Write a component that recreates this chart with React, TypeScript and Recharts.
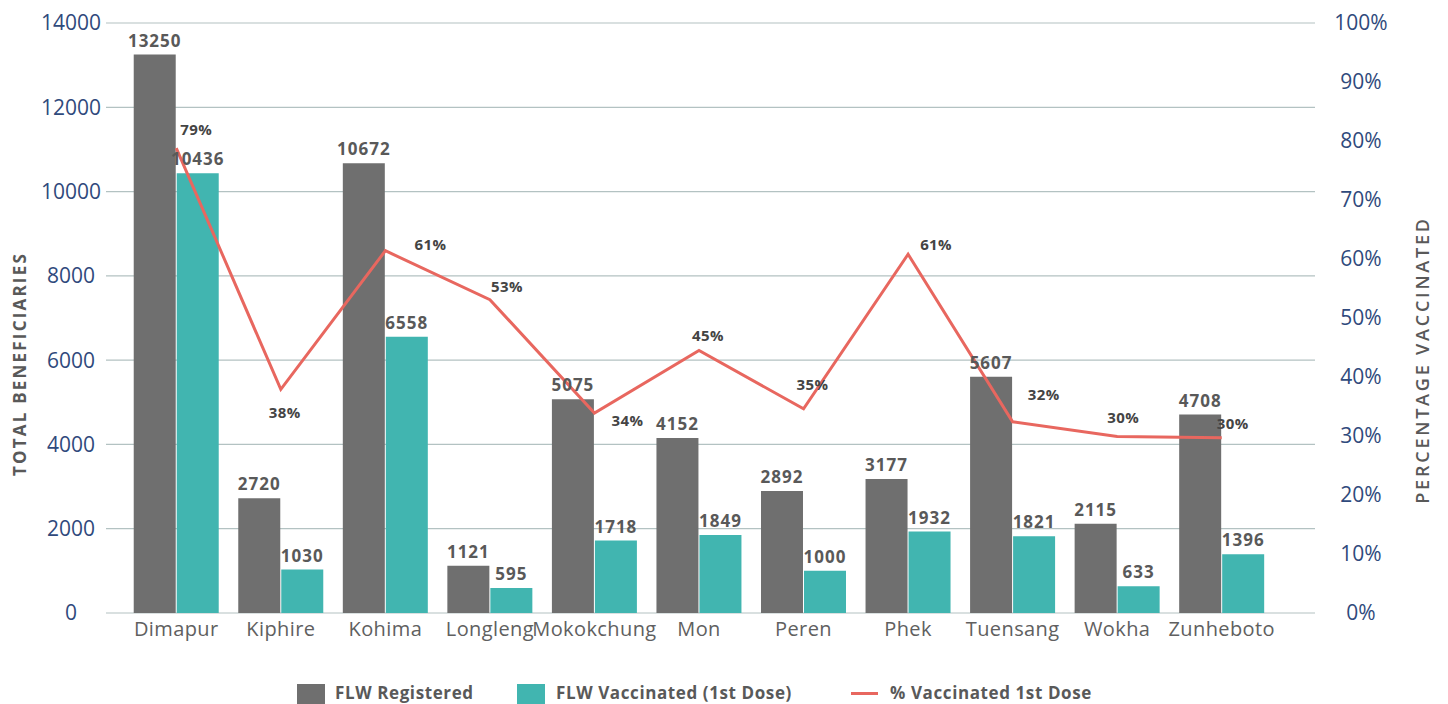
import React from 'react';
import { ComposedChart, Bar, Line, XAxis, YAxis, CartesianGrid, LabelList, Legend } from 'recharts';

const categories = ['Dimapur', 'Kiphire', 'Kohima', 'Longleng', 'Mokokchung', 'Mon', 'Peren', 'Phek', 'Tuensang', 'Wokha', 'Zunheboto'];
const registered = [13250, 2720, 10672, 1121, 5075, 4152, 2892, 3177, 5607, 2115, 4708];
const vaccinated = [10436, 1030, 6558, 595, 1718, 1849, 1000, 1932, 1821, 633, 1396];
const pctVaccinated = [78.8, 37.9, 61.4, 53.1, 33.9, 44.5, 34.6, 60.8, 32.4, 29.9, 29.7];
const leftTicks = [0, 2000, 4000, 6000, 8000, 10000, 12000, 14000];
const rightTicks = [0, 10, 20, 30, 40, 50, 60, 70, 80, 90, 100];

const data = categories.map((name, i) => ({
  name,
  registered: registered[i],
  vaccinated: vaccinated[i],
  pct: pctVaccinated[i],
}));

const FONT = '"Open Sans", "DejaVu Sans", sans-serif';
const GRAY = '#6f6f6f';
const TEAL = '#41b5b0';
const RED = '#e8675f';
const LABEL = '#595959';
const AXIS_BLUE = '#2f4a7c';

// label offsets (dx, dy) for the percentage labels, mimicking the source layout
const pctLabelOffsets: [number, number][] = [
  [20, -19], [4, 23], [45, -7], [17, -14], [33, 7], [9, -15], [9, -25], [28, -10], [31, -28], [6, -20], [11, -15],
];

const PctLabel = (props: any) => {
  const { x, y, value, index } = props;
  const [dx, dy] = pctLabelOffsets[index] || [0, -12];
  return (
    <text x={x + dx} y={y + dy} textAnchor="middle" dominantBaseline="central" fontFamily={FONT} fontWeight={700} fontSize={15} letterSpacing={0.4} fill="#444">
      {Math.round(value)}%
    </text>
  );
};

const BarLabel = (props: any) => {
  const { x, y, width, value } = props;
  return (
    <text x={x + width / 2} y={y - 8} textAnchor="middle" fontFamily={FONT} fontWeight={700} fontSize={17} letterSpacing={1} fill={LABEL}>
      {value}
    </text>
  );
};

const LegendContent = () => (
  <div style={{ position: 'relative', height: 20, fontFamily: FONT, fontWeight: 700, fontSize: 17, letterSpacing: 0.6, color: LABEL }}>
    <span style={{ position: 'absolute', left: 289, top: 0, width: 28, height: 20, background: GRAY }} />
    <span style={{ position: 'absolute', left: 327, top: -3, whiteSpace: 'nowrap' }}>FLW Registered</span>
    <span style={{ position: 'absolute', left: 509, top: 0, width: 28, height: 20, background: TEAL }} />
    <span style={{ position: 'absolute', left: 548, top: -3, whiteSpace: 'nowrap' }}>FLW Vaccinated (1st Dose)</span>
    <span style={{ position: 'absolute', left: 843, top: 8, width: 27, height: 3, background: RED }} />
    <span style={{ position: 'absolute', left: 882, top: -3, whiteSpace: 'nowrap' }}>% Vaccinated 1st Dose</span>
  </div>
);

const LeftTitle = (props: any) => {
  const { viewBox } = props;
  const cx = 11;
  const cy = viewBox.y + viewBox.height / 2 + 46;
  return (
    <text x={cx} y={cy} transform={`rotate(-90 ${cx} ${cy})`} textAnchor="middle" dominantBaseline="central" fontFamily={FONT} fontWeight={700} fontSize={17} letterSpacing={2.2} fill={LABEL}>
      TOTAL BENEFICIARIES
    </text>
  );
};

const RightTitle = (props: any) => {
  const { viewBox } = props;
  const cx = 1414;
  const cy = viewBox.y + viewBox.height / 2 + 42;
  return (
    <text x={cx} y={cy} transform={`rotate(-90 ${cx} ${cy})`} textAnchor="middle" dominantBaseline="central" fontFamily={FONT} fontWeight={600} fontSize={18} letterSpacing={2.8} fill={LABEL}>
      PERCENTAGE VACCINATED
    </text>
  );
};

export default function App() {
  return (
    <div style={{ width: 1440, height: 696 }}>
      <ComposedChart
        width={1440}
        height={696}
        data={data}
        margin={{ top: 15, right: 0, bottom: 0, left: 0 }}
        barCategoryGap="9.3%"
        barGap={1}
      >
        <CartesianGrid vertical={false} stroke="#b3c2c2" strokeWidth={1.2} yAxisId="left" />
        <XAxis
          dataKey="name"
          height={91}
          padding={{ left: 18, right: 41 }}
          axisLine={false}
          tickLine={false}
          tickSize={0}
          tickMargin={9}
          interval={0}
          tick={{ fontFamily: FONT, fontSize: 20, letterSpacing: 0.4, fill: '#606060' }}
        />
        <YAxis
          yAxisId="left"
          orientation="left"
          width={98}
          domain={[0, 14000]}
          ticks={leftTicks}
          axisLine={false}
          tickLine={false}
          tickSize={0}
          tickMargin={35}
          tick={{ fontFamily: FONT, fontSize: 21, fill: AXIS_BLUE, textAnchor: 'middle' }}
          label={<LeftTitle />}
        />
        <YAxis
          yAxisId="right"
          orientation="right"
          width={133}
          domain={[0, 100]}
          ticks={rightTicks}
          tickFormatter={(v: number) => `${v}%`}
          axisLine={false}
          tickLine={false}
          tickSize={0}
          tickMargin={46}
          tick={{ fontFamily: FONT, fontSize: 21, fill: AXIS_BLUE, textAnchor: 'middle' }}
          label={<RightTitle />}
        />
        <Legend
          layout="horizontal"
          verticalAlign="middle"
          align="center"
          wrapperStyle={{ top: 676, left: 0, width: 1440, height: 20 }}
          content={<LegendContent />}
        />
        <Bar yAxisId="left" dataKey="registered" fill={GRAY} isAnimationActive={false}>
          <LabelList dataKey="registered" content={<BarLabel />} />
        </Bar>
        <Bar yAxisId="left" dataKey="vaccinated" fill={TEAL} isAnimationActive={false}>
          <LabelList dataKey="vaccinated" content={<BarLabel />} />
        </Bar>
        <Line yAxisId="right" type="linear" dataKey="pct" stroke={RED} strokeWidth={3} dot={false} activeDot={false} isAnimationActive={false}>
          <LabelList dataKey="pct" content={<PctLabel />} />
        </Line>
      </ComposedChart>
    </div>
  );
}
